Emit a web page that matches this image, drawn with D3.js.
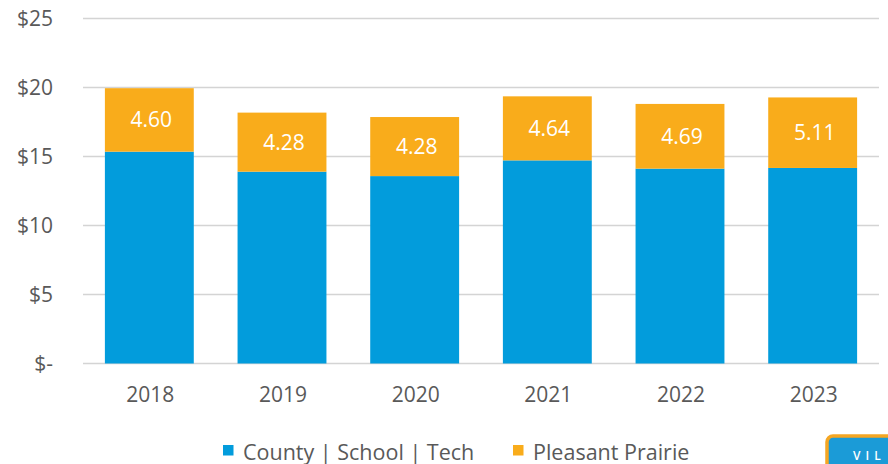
<!DOCTYPE html>
<html>
<head>
<meta charset="utf-8">
<script src="https://cdn.jsdelivr.net/npm/d3@7/dist/d3.min.js"></script>
<style>
  html, body { margin: 0; padding: 0; background: #fff; }
  svg { display: block; }
  text { font-family: 'Open Sans', Lato, sans-serif; }
</style>
</head>
<body>
<svg id="chart" width="888" height="464"></svg>
<script>
const years = ['2018', '2019', '2020', '2021', '2022', '2023'];
const countySchoolTech = [15.35, 13.90, 13.58, 14.72, 14.12, 14.17];
const pleasantPrairie = [4.60, 4.28, 4.28, 4.64, 4.69, 5.11];
const seriesNames = ['County | School | Tech', 'Pleasant Prairie'];
const seriesColors = ['#029CDC', '#F9AC1B'];
const yTicks = [0, 5, 10, 15, 20, 25];

const svg = d3.select('#chart');

const x = d3.scaleBand()
  .domain(years)
  .range([83, 879])
  .paddingInner(0.33)
  .paddingOuter(0.165);

const y = d3.scaleLinear()
  .domain([0, 25])
  .range([363.5, 18.5]);

// rows for the stack
const rows = years.map((yr, i) => ({
  year: yr,
  county: countySchoolTech[i],
  prairie: pleasantPrairie[i]
}));
const stacked = d3.stack().keys(['county', 'prairie'])(rows);

// gridlines
svg.append('g')
  .selectAll('line')
  .data(yTicks)
  .enter()
  .append('line')
  .attr('x1', 83)
  .attr('x2', 879)
  .attr('y1', (d) => y(d))
  .attr('y2', (d) => y(d))
  .style('stroke', '#D4D4D4')
  .style('stroke-width', 1.4);

// y axis labels
const yAxis = d3.axisLeft(y)
  .tickValues(yTicks)
  .tickSize(0)
  .tickPadding(0)
  .tickFormat((d) => (d === 0 ? '$-' : '$' + d));
svg.append('g')
  .attr('transform', 'translate(53,0)')
  .call(yAxis)
  .call((g) => g.select('.domain').remove())
  .selectAll('text')
  .attr('font-size', 21)
  .attr('fill', '#595959')
  .attr('font-family', "'Open Sans', sans-serif");

// bars
const layers = svg.append('g')
  .selectAll('g.layer')
  .data(stacked)
  .enter()
  .append('g')
  .attr('class', 'layer')
  .attr('fill', (d, i) => seriesColors[i]);

layers.selectAll('rect')
  .data((d) => d)
  .enter()
  .append('rect')
  .attr('x', (d) => x(d.data.year))
  .attr('width', x.bandwidth())
  .attr('y', (d) => y(d[1]))
  .attr('height', (d) => y(d[0]) - y(d[1]));

// value labels on the top segment
svg.append('g')
  .selectAll('text')
  .data(stacked[1])
  .enter()
  .append('text')
  .attr('x', (d) => x(d.data.year) + x.bandwidth() / 2 + 2)
  .attr('y', (d) => (y(d[0]) + y(d[1])) / 2)
  .attr('dy', '0.36em')
  .attr('text-anchor', 'middle')
  .attr('font-size', 21)
  .attr('fill', '#FFFFFF')
  .text((d) => d.data.prairie.toFixed(2));

// x axis labels
const xAxis = d3.axisBottom(x).tickSize(0).tickPadding(0);
svg.append('g')
  .attr('transform', 'translate(1,387)')
  .call(xAxis)
  .call((g) => g.select('.domain').remove())
  .selectAll('text')
  .attr('dy', '0.72em')
  .attr('font-size', 21)
  .attr('fill', '#595959')
  .attr('font-family', "'Open Sans', sans-serif");

// legend
const legendX = [223, 513];
const legend = svg.append('g')
  .selectAll('g')
  .data(seriesNames)
  .enter()
  .append('g')
  .attr('transform', (d, i) => 'translate(' + legendX[i] + ',445)');
legend.append('rect')
  .attr('width', 10.5)
  .attr('height', 10.5)
  .attr('fill', (d, i) => seriesColors[i]);
legend.append('text')
  .attr('x', 20)
  .attr('y', 14.5)
  .attr('font-size', 21.5)
  .attr('fill', '#595959')
  .text((d) => d);

// cut-off button in the corner
const btn = svg.append('g');
btn.append('rect')
  .attr('x', 827)
  .attr('y', 436)
  .attr('width', 100)
  .attr('height', 60)
  .attr('rx', 6)
  .attr('fill', '#1B9BD7')
  .attr('stroke', '#F5A623')
  .attr('stroke-width', 3.5);
btn.append('text')
  .attr('x', 853)
  .attr('y', 460)
  .attr('font-size', 12)
  .attr('font-weight', 600)
  .attr('letter-spacing', 5)
  .attr('fill', '#FFFFFF')
  .text('VIL');
</script>
</body>
</html>
